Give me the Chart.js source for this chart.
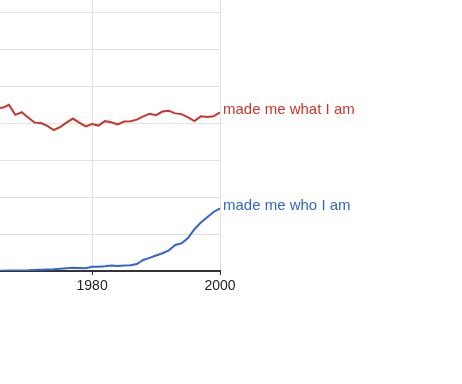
<!DOCTYPE html>
<html>
<head>
<meta charset="utf-8">
<script src="https://cdn.jsdelivr.net/npm/chart.js@4"></script>
<style>
  html, body { margin: 0; padding: 0; background: #fff; overflow: hidden; }
  #wrap { width: 465px; height: 384px; margin-left: -3px; }
</style>
</head>
<body>
<div id="wrap"><canvas id="myChart" width="465" height="384"></canvas></div>
<script>
const years = [1965, 1966, 1967, 1968, 1969, 1970, 1971, 1972, 1973, 1974,
  1975, 1976, 1977, 1978, 1979, 1980, 1981, 1982, 1983, 1984,
  1985, 1986, 1987, 1988, 1989, 1990, 1991, 1992, 1993, 1994,
  1995, 1996, 1997, 1998, 1999, 2000];

const whatIAm = [4.41, 4.41, 4.49, 4.22, 4.29, 4.15, 4.01, 4.00, 3.92, 3.81,
  3.89, 4.01, 4.12, 4.01, 3.91, 3.97, 3.93, 4.05, 4.02, 3.96,
  4.04, 4.05, 4.09, 4.18, 4.25, 4.21, 4.31, 4.33, 4.26, 4.24,
  4.15, 4.05, 4.18, 4.16, 4.18, 4.29];

const whoIAm = [0.005, 0.008, 0.011, 0.014, 0.016, 0.019, 0.027, 0.032, 0.038, 0.046,
  0.059, 0.073, 0.086, 0.084, 0.073, 0.114, 0.116, 0.127, 0.146, 0.135,
  0.146, 0.157, 0.189, 0.297, 0.354, 0.419, 0.481, 0.559, 0.703, 0.749,
  0.892, 1.130, 1.311, 1.451, 1.595, 1.695];

const seriesNames = ['made me what I am', 'made me who I am'];
const seriesColors = ['#c9372c', '#3366cc'];
const xTicks = [1980, 2000];
const yGrid = [0, 1, 2, 3, 4, 5, 6, 7];

const toPoints = (vals) => years.map((y, i) => ({ x: y, y: vals[i] }));

// labels at the right end of each line
const endLabels = {
  id: 'endLabels',
  afterDatasetsDraw(chart) {
    const ctx = chart.ctx;
    ctx.save();
    ctx.font = '15px "Liberation Sans", Arial, sans-serif';
    ctx.textBaseline = 'alphabetic';
    chart.data.datasets.forEach((ds, i) => {
      const pts = chart.getDatasetMeta(i).data;
      const last = pts[pts.length - 1];
      ctx.fillStyle = ds.borderColor;
      ctx.fillText(ds.label, last.x + 3, last.y + 2);
    });
    ctx.restore();
  }
};

const ctx = document.getElementById('myChart').getContext('2d');
const myChart = new Chart(ctx, {
  type: 'line',
  data: {
    datasets: [{
      label: seriesNames[0],
      data: toPoints(whatIAm),
      borderColor: seriesColors[0],
      borderWidth: 2,
      pointRadius: 0,
      tension: 0
    }, {
      label: seriesNames[1],
      data: toPoints(whoIAm),
      borderColor: seriesColors[1],
      borderWidth: 2,
      pointRadius: 0,
      tension: 0
    }]
  },
  options: {
    responsive: false,
    animation: false,
    layout: { padding: { left: 0, right: 242, top: 0, bottom: 0 } },
    plugins: {
      legend: { display: false },
      tooltip: { enabled: false },
      title: { display: false }
    },
    scales: {
      x: {
        type: 'linear',
        min: 1965.6,
        max: 2000,
        afterFit: (scale) => { scale.height = 113; },
        afterBuildTicks: (scale) => {
          scale.ticks = [{ value: 1965.6 }].concat(xTicks.map(v => ({ value: v })));
        },
        border: { display: true, color: '#333333', width: 2 },
        grid: {
          color: (c) => xTicks.includes(c.tick && c.tick.value) ? '#e2e2e2' : 'rgba(0,0,0,0)',
          tickColor: (c) => xTicks.includes(c.tick && c.tick.value) ? '#333333' : 'rgba(0,0,0,0)',
          tickLength: 4,
          drawTicks: true
        },
        ticks: {
          autoSkip: false,
          maxRotation: 0,
          padding: 3,
          color: '#222222',
          font: { family: '"Liberation Sans", Arial, sans-serif', size: 14 },
          callback: (v) => xTicks.includes(v) ? String(v) : ''
        }
      },
      y: {
        min: 0,
        max: 271 / 37,
        afterFit: (scale) => { scale.width = 0; },
        afterBuildTicks: (scale) => {
          scale.ticks = yGrid.map(v => ({ value: v }));
        },
        border: { display: false },
        grid: {
          drawTicks: false,
          color: (c) => (c.tick && c.tick.value > 0) ? '#e2e2e2' : 'rgba(0,0,0,0)'
        },
        ticks: { display: false }
      }
    }
  },
  plugins: [endLabels]
});
</script>
</body>
</html>
